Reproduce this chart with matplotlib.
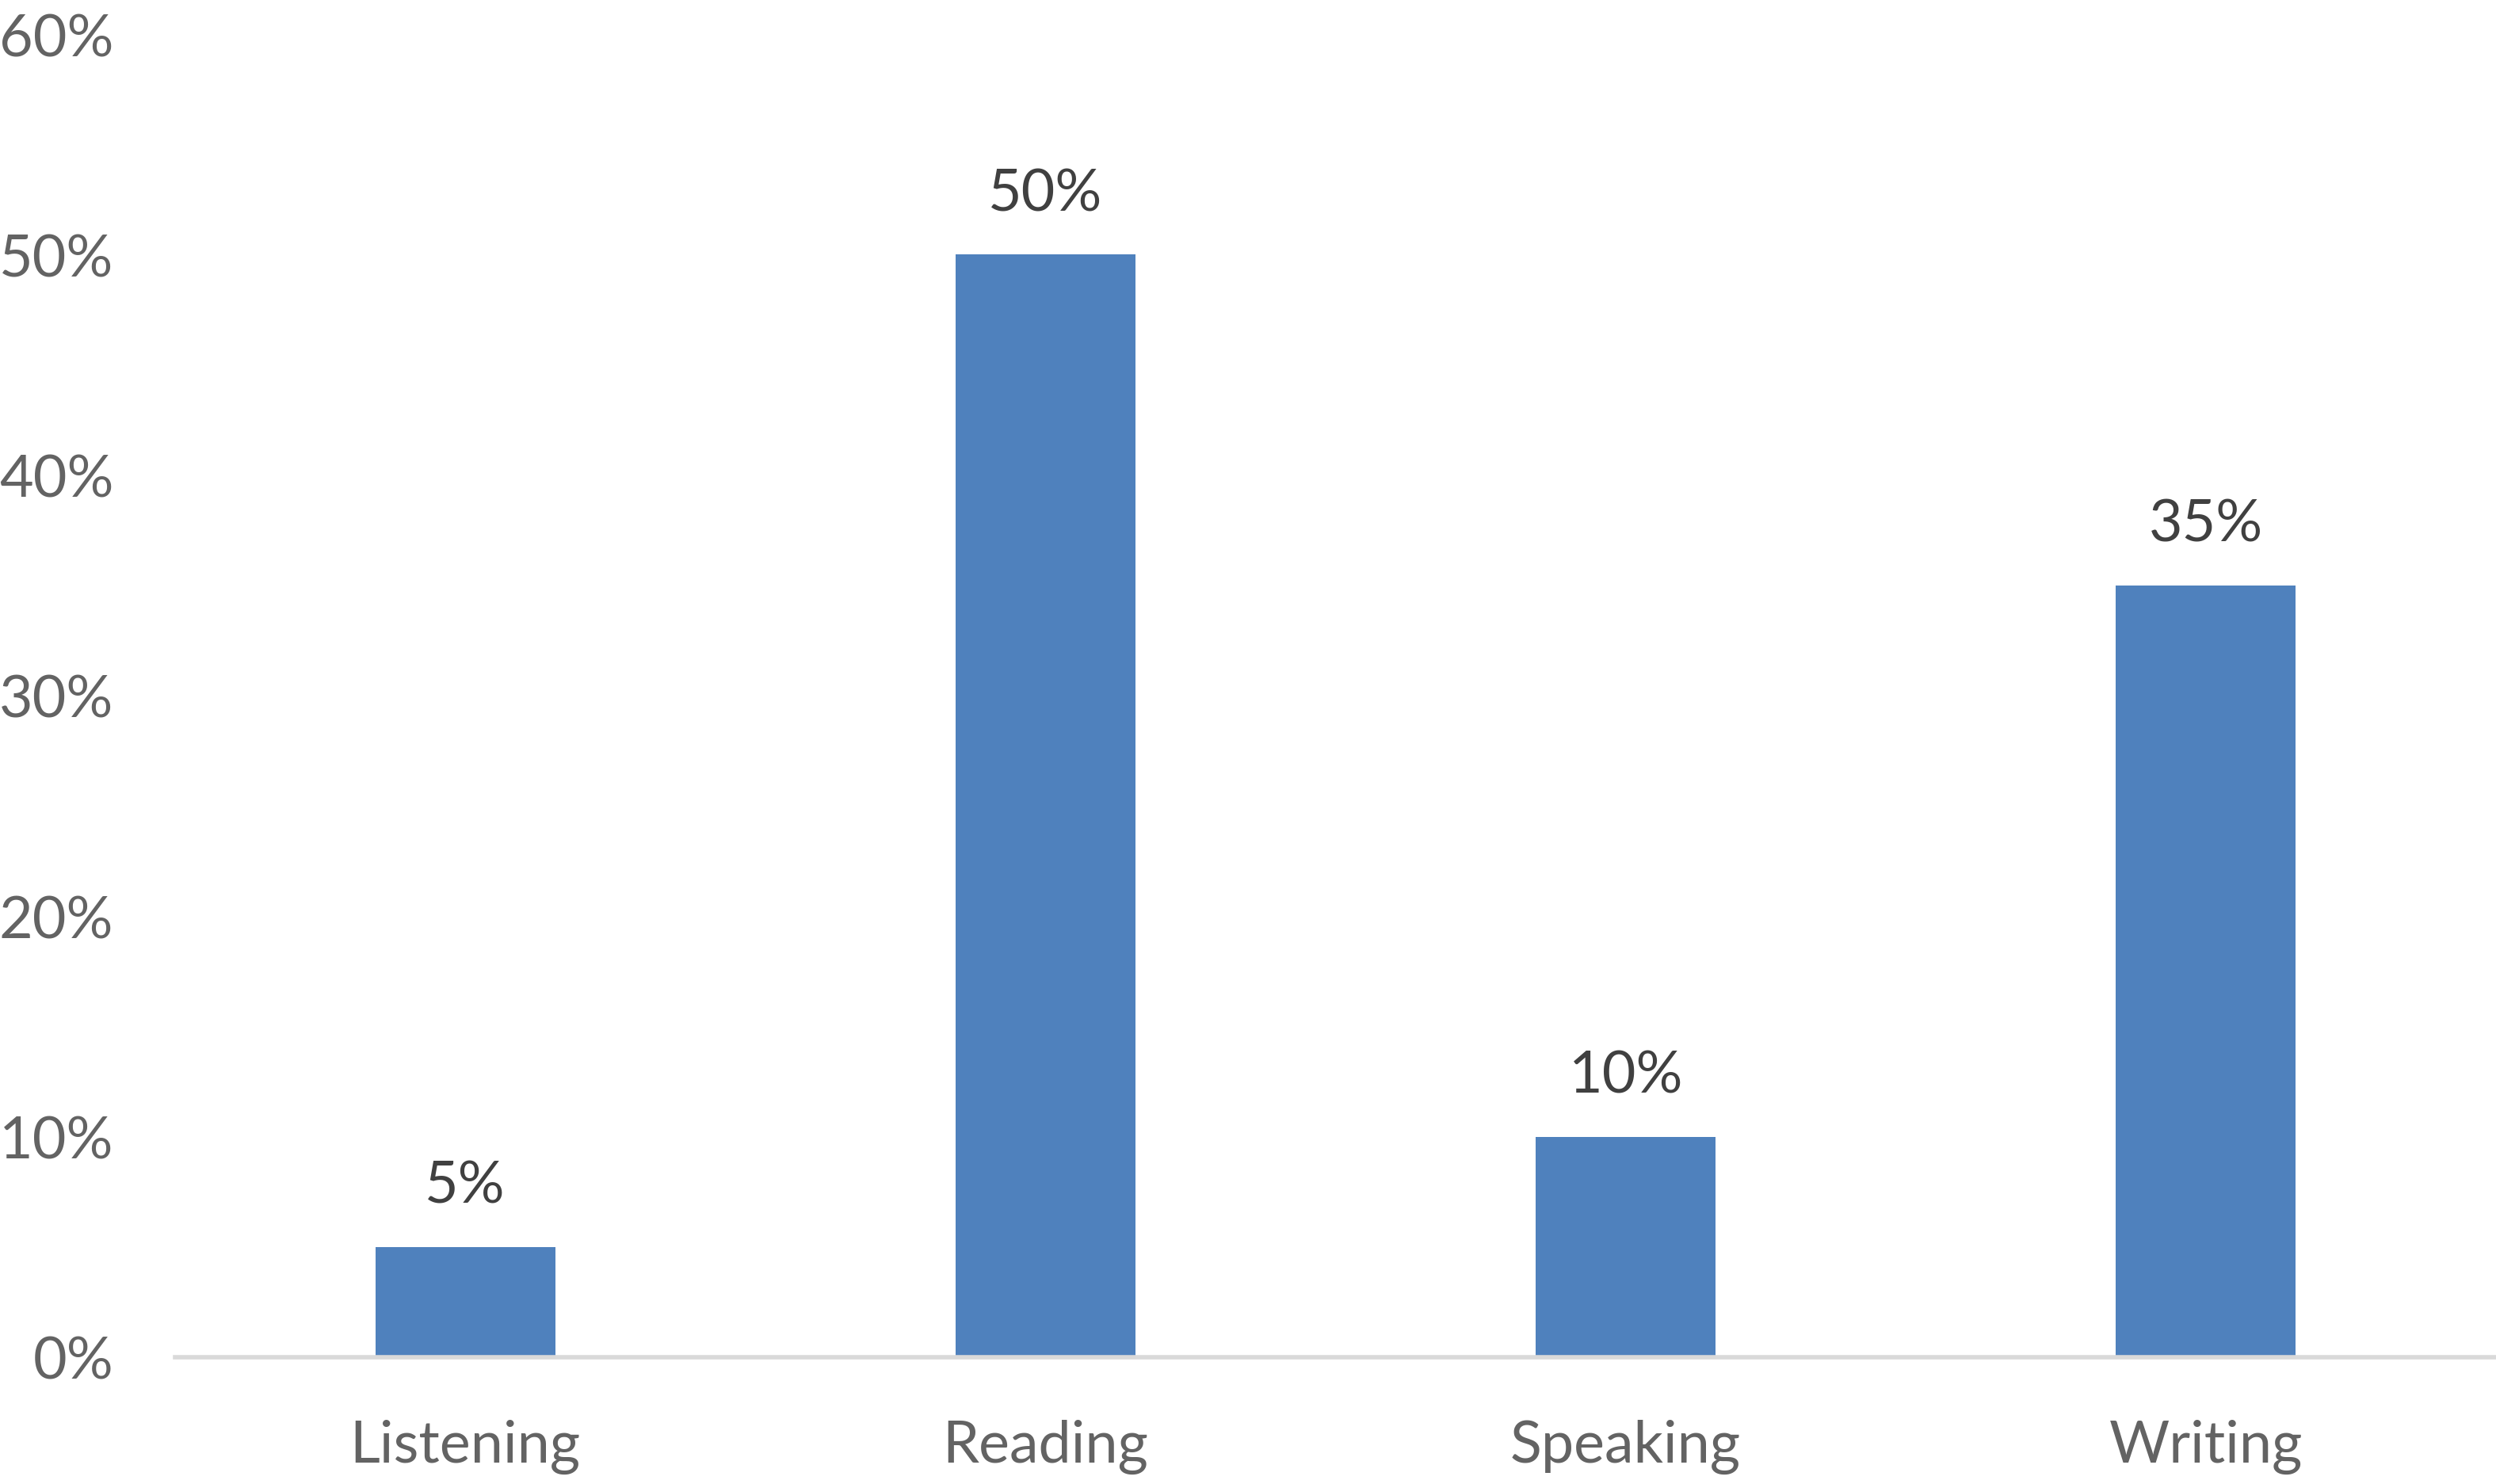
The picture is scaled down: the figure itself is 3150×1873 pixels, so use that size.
import numpy as np
import matplotlib
matplotlib.use("Agg")
import matplotlib.pyplot as plt
from matplotlib.ticker import FuncFormatter

# Data
categories = ["Listening", "Reading", "Speaking", "Writing"]
shares = [0.05, 0.50, 0.10, 0.35]
y_ticks = [0.0, 0.1, 0.2, 0.3, 0.4, 0.5, 0.6]

plt.rcParams['font.family'] = ['Lato', 'DejaVu Sans']

fig = plt.figure(figsize=(31.5, 18.74), dpi=100)
ax = fig.add_axes([0.0702, 0.0854, 0.9298, 0.8911])

x = np.arange(len(categories))
bars = ax.bar(x, shares, width=0.31, color='#4f81bd', zorder=2)

# value labels above bars
for xi, val in zip(x, shares):
    ax.annotate(f"{val * 100:.0f}%", (xi, val), xytext=(0, 31),
                textcoords='offset points', ha='center', va='bottom',
                fontsize=53, color='#404040')

ax.set_xlim(-0.5, len(categories) - 0.5)
ax.set_ylim(0, 0.6)
ax.set_yticks(y_ticks)
ax.yaxis.set_major_formatter(FuncFormatter(lambda v, _: f"{v * 100:.0f}%"))
ax.set_xticks(x)
ax.set_xticklabels(categories)

ax.tick_params(axis='y', length=0, pad=56, labelsize=53, labelcolor='#636363')
ax.tick_params(axis='x', length=0, pad=56, labelsize=53, labelcolor='#636363')

for side in ['top', 'right', 'left']:
    ax.spines[side].set_visible(False)
ax.spines['bottom'].set_color('#d9d9d9')
ax.spines['bottom'].set_linewidth(4)
ax.spines['bottom'].set_zorder(3)

fig.savefig("out.png", dpi=100)
